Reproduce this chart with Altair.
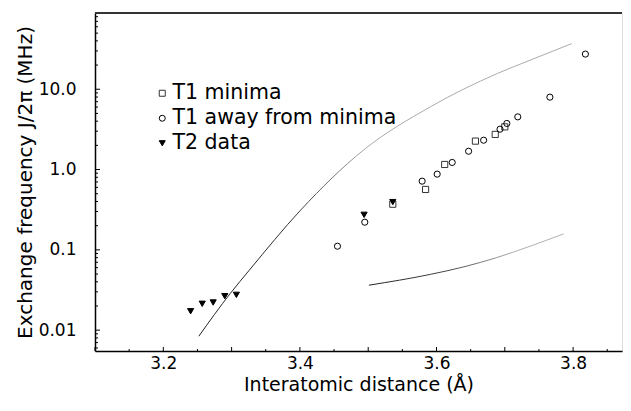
import altair as alt
import pandas as pd

# ---- data ----
sq_x = [3.536, 3.584, 3.612, 3.657, 3.686, 3.700]
sq_y = [0.37, 0.565, 1.157, 2.26, 2.74, 3.40]

ci_x = [3.455, 3.495, 3.579, 3.601, 3.623, 3.647, 3.669, 3.693, 3.703, 3.719, 3.766, 3.818]
ci_y = [0.111, 0.221, 0.717, 0.877, 1.225, 1.69, 2.32, 3.18, 3.75, 4.53, 7.97, 27.4]

tr_x = [3.240, 3.257, 3.273, 3.290, 3.307, 3.494, 3.536]
tr_y = [0.0172, 0.0213, 0.0221, 0.0265, 0.0275, 0.273, 0.393]

up_x = [3.252, 3.298, 3.326, 3.401, 3.493, 3.591, 3.689, 3.737, 3.798]
up_y = [0.0084, 0.0286, 0.0559, 0.312, 1.745, 6.04, 15.7, 23.0, 37.0]

lo_x = [3.501, 3.591, 3.640, 3.688, 3.737, 3.786]
lo_y = [0.0363, 0.0495, 0.0614, 0.080, 0.111, 0.158]

series_names = ["T1 minima", "T1 away from minima", "T2 data"]

x_ticks = [3.2, 3.4, 3.6, 3.8]
y_ticks = [0.01, 0.1, 1, 10]

# ---- tables ----
pts = pd.concat([
    pd.DataFrame({"x": sq_x, "y": sq_y, "s": series_names[0]}),
    pd.DataFrame({"x": ci_x, "y": ci_y, "s": series_names[1]}),
    pd.DataFrame({"x": tr_x, "y": tr_y, "s": series_names[2]}),
])
up = pd.DataFrame({"x": up_x, "y": up_y})
lo = pd.DataFrame({"x": lo_x, "y": lo_y})

W, H = 527, 338
FONT = "DejaVu Sans"
xs = alt.Scale(domain=[3.1, 3.8716], nice=False, zero=False)
ys = alt.Scale(type="log", domain=[0.0055, 89], nice=False)

xaxis = alt.Axis(values=x_ticks, format=".1f", ticks=False, grid=False,
                 labelFont=FONT, labelFontSize=17, labelColor="black", labelPadding=4,
                 domainColor="black", domainWidth=1.5,
                 title="Interatomic distance  (Å)", titleFont=FONT, titleFontSize=19,
                 titleFontWeight="normal", titleColor="black", titlePadding=4)
yaxis = alt.Axis(values=y_ticks, ticks=False, grid=False,
                 labelExpr="datum.value < 0.05 ? '0.01' : datum.value < 0.5 ? '0.1' : format(datum.value, '.1f')",
                 labelFont=FONT, labelFontSize=17, labelColor="black", labelPadding=19,
                 domainColor="black", domainWidth=1.5,
                 title="Exchange frequency  J/2π (MHz)", titleFont=FONT, titleFontSize=20,
                 titleFontWeight="normal", titleColor="black", titlePadding=3)

X = alt.X("x:Q", scale=xs, axis=xaxis)
Y = alt.Y("y:Q", scale=ys, axis=yaxis)

up_grad = alt.Gradient(gradient="linear", x1=0, x2=1, y1=0, y2=0, stops=[
    alt.GradientStop(color="#222222", offset=0),
    alt.GradientStop(color="#333333", offset=0.25),
    alt.GradientStop(color="#aaaaaa", offset=0.45),
    alt.GradientStop(color="#aaaaaa", offset=1)])
lo_grad = alt.Gradient(gradient="linear", x1=0, x2=1, y1=0, y2=0, stops=[
    alt.GradientStop(color="#222222", offset=0),
    alt.GradientStop(color="#444444", offset=0.4),
    alt.GradientStop(color="#b0b0b0", offset=0.75),
    alt.GradientStop(color="#b0b0b0", offset=1)])

up_line = alt.Chart(up).mark_line(color=up_grad, strokeWidth=1, interpolate="monotone").encode(x=X, y=Y)
lo_line = alt.Chart(lo).mark_line(color=lo_grad, strokeWidth=1, interpolate="monotone").encode(x=X, y=Y)

leg = alt.Legend(orient="none", legendX=57, legendY=70, title=None,
                 labelFont=FONT, labelFontSize=20.5, labelColor="black", labelLimit=500,
                 symbolSize=36, symbolStrokeWidth=1,
                 rowPadding=4, labelOffset=0, padding=0)

points = alt.Chart(pts).mark_point(size=38, strokeWidth=1, opacity=1).encode(
    x=X, y=Y,
    shape=alt.Shape("s:N", scale=alt.Scale(domain=series_names, range=["square", "circle", "triangle-down"]), legend=leg),
    fill=alt.Fill("s:N", scale=alt.Scale(domain=series_names, range=["transparent", "transparent", "black"]), legend=leg),
    stroke=alt.Stroke("s:N", scale=alt.Scale(domain=series_names, range=["#333333", "black", "black"]), legend=leg),
)

# inward ticks
ymaj = pd.DataFrame({"v": y_ticks})
ymin = pd.DataFrame({"v": [k * 10.0 ** e for e in range(-3, 2) for k in range(2, 10) if 0.0055 <= k * 10.0 ** e <= 89]})
xmaj = pd.DataFrame({"v": [3.1, 3.2, 3.3, 3.4, 3.5, 3.6, 3.7, 3.8]})
xmin = pd.DataFrame({"v": [3.15, 3.25, 3.35, 3.45, 3.55, 3.65, 3.75, 3.85]})

yt1 = alt.Chart(ymaj).mark_rule(color="black", strokeWidth=1).encode(
    y=alt.Y("v:Q", scale=ys, axis=yaxis), x=alt.value(0), x2=alt.value(5))
yt2 = alt.Chart(ymin).mark_rule(color="black", strokeWidth=1).encode(
    y=alt.Y("v:Q", scale=ys, axis=yaxis), x=alt.value(0), x2=alt.value(3))
xt1 = alt.Chart(xmaj).mark_rule(color="black", strokeWidth=1).encode(
    x=alt.X("v:Q", scale=xs, axis=xaxis), y=alt.value(H), y2=alt.value(H - 4))
xt2 = alt.Chart(xmin).mark_rule(color="black", strokeWidth=1).encode(
    x=alt.X("v:Q", scale=xs, axis=xaxis), y=alt.value(H), y2=alt.value(H - 2))
top = alt.Chart(ymaj).mark_rule(color="#333", strokeWidth=1.5).encode(
    x=alt.value(0), x2=alt.value(W), y=alt.value(0))

chart = alt.layer(up_line, lo_line, points, yt1, yt2, xt1, xt2, top).properties(
    width=W, height=H,
    padding={"left": 87, "top": 5, "right": 1, "bottom": 52},
    autosize=alt.AutoSizeParams(type="none"),
).configure_view(stroke=None).configure(background="white")

chart.save("out.html", embed_options={"renderer": "svg", "actions": False})
